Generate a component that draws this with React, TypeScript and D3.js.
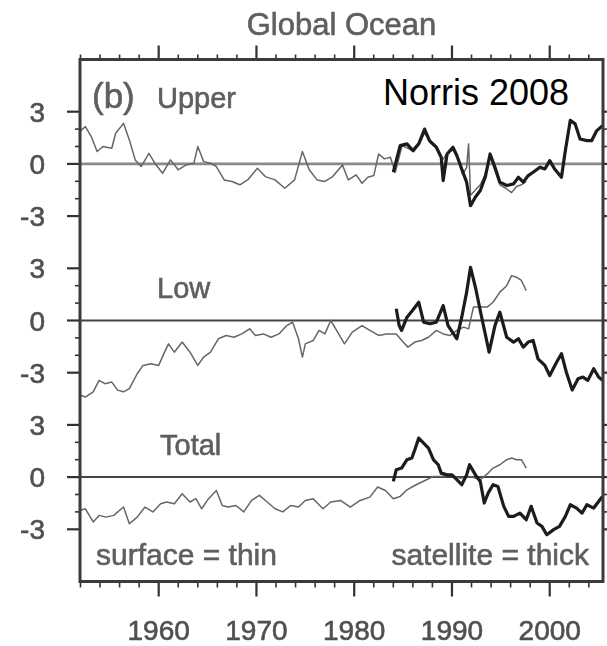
import React from 'react';
import * as d3 from 'd3';

// ---------- data (year, anomaly) ----------
const upperSurface: [number, number][] = [
  [1952.0, 1.9], [1952.5, 2.14], [1953.1, 1.57], [1953.7, 0.71], [1954.3, 1.0], [1955.2, 0.9], [1955.6, 1.76],
  [1956.4, 2.33], [1957.0, 1.38], [1957.6, 0.23], [1958.2, -0.15], [1959.0, 0.61], [1959.6, 0.04], [1960.4, -0.54],
  [1961.2, 0.23], [1962.0, -0.34], [1962.8, -0.06], [1963.6, 0.04], [1964.0, 1.0], [1964.6, 0.13], [1965.3, 0.04],
  [1965.9, -0.15], [1966.7, -0.92], [1967.5, -1.01], [1968.3, -1.2], [1969.1, -0.92], [1970.1, -0.25], [1970.9, -0.73],
  [1971.9, -0.92], [1972.9, -1.4], [1973.9, -0.92], [1974.7, 0.71], [1975.4, -0.34], [1976.2, -0.92], [1977.0, -1.01],
  [1977.8, -0.73], [1978.8, -0.06], [1979.4, -0.92], [1980.2, -0.63], [1980.8, -1.11], [1981.4, -0.77], [1982.0, -0.67],
  [1982.5, 0.57], [1983.1, 0.29], [1983.7, 0.38], [1984.2, -0.48], [1984.9, 1.05], [1985.5, 0.9], [1986.1, 0.7],
  [1986.7, 1.2], [1987.2, 1.8], [1987.8, 1.2], [1988.4, 0.9], [1989.0, 0.2], [1989.5, 0.6], [1990.1, 0.8],
  [1990.6, 0.3], [1991.1, -0.6], [1991.5, -0.2], [1991.7, 1.15], [1991.9, -1.8], [1992.4, -1.5], [1992.9, -1.2],
  [1993.4, -0.6], [1993.9, 0.4], [1994.4, -0.4], [1994.9, -1.2], [1995.5, -1.4], [1996.1, -1.65], [1996.6, -1.3],
  [1997.1, -1.2], [1997.6, -1.0],
];

const upperSatellite: [number, number][] = [
  [1984.0, -0.48], [1984.7, 1.05], [1985.4, 1.15], [1986.0, 0.77], [1986.6, 1.15], [1987.2, 2.0], [1987.7, 1.34],
  [1988.4, 0.96], [1988.9, 0.38], [1989.1, -0.96], [1989.5, 0.57], [1990.1, 0.96], [1990.5, 0.48], [1991.0, -0.29],
  [1991.5, -1.05], [1991.9, -2.4], [1992.4, -1.9], [1992.9, -1.53], [1993.4, -0.77], [1993.9, 0.57], [1994.4, -0.19],
  [1994.9, -1.05], [1995.6, -1.24], [1996.3, -1.15], [1996.8, -0.77], [1997.3, -1.05], [1997.8, -0.67], [1998.3, -0.48],
  [1999.0, -0.19], [1999.5, -0.29], [2000.0, 0.19], [2000.5, -0.29], [2001.2, -0.77], [2001.6, 0.77], [2002.1, 2.5],
  [2002.6, 2.3], [2003.1, 1.43], [2003.8, 1.34], [2004.3, 1.34], [2004.8, 1.9], [2005.4, 2.2],
];

const lowSurface: [number, number][] = [
  [1952.0, -4.3], [1952.5, -4.4], [1953.3, -4.1], [1953.9, -3.44], [1954.5, -3.63], [1955.2, -3.54], [1955.8, -4.0],
  [1956.4, -4.1], [1957.0, -3.92], [1957.8, -3.06], [1958.4, -2.58], [1959.2, -2.49], [1960.0, -2.58], [1960.6, -1.82],
  [1961.0, -1.34], [1961.6, -1.82], [1962.4, -1.24], [1963.2, -1.82], [1964.0, -2.58], [1964.6, -2.1], [1965.3, -1.82],
  [1966.1, -1.05], [1966.9, -0.86], [1967.7, -0.96], [1968.5, -0.77], [1969.3, -0.48], [1969.9, -0.86], [1970.7, -0.77],
  [1971.5, -0.96], [1972.3, -0.77], [1973.1, -0.29], [1973.7, -0.1], [1974.3, -1.05], [1974.7, -2.1], [1975.0, -1.34],
  [1975.8, -1.15], [1976.4, -0.57], [1977.0, -0.77], [1977.6, 0.0], [1978.2, -0.57], [1979.0, -1.34], [1979.8, -0.67],
  [1980.8, -0.29], [1981.6, -0.57], [1982.5, -0.86], [1983.3, -0.77], [1984.3, -0.77], [1985.0, -1.24], [1985.5, -1.53],
  [1986.2, -1.24], [1986.9, -1.15], [1987.6, -0.96], [1988.4, -0.57], [1989.1, -0.77], [1989.8, -0.86], [1990.5, -0.57],
  [1991.2, -0.38], [1991.7, -0.48], [1992.2, 0.77], [1992.7, 0.77], [1993.6, 0.77], [1994.2, 1.05], [1994.9, 1.63],
  [1995.6, 2.0], [1996.1, 2.58], [1996.6, 2.49], [1997.1, 2.3], [1997.6, 1.72],
];

const lowSatellite: [number, number][] = [
  [1984.3, 0.67], [1984.6, -0.29], [1984.85, -0.57], [1985.4, 0.19], [1986.0, 0.6], [1986.6, 1.05], [1987.1, -0.1],
  [1987.75, -0.19], [1988.4, -0.1], [1989.1, 0.86], [1989.6, -0.29], [1990.5, -1.05], [1991.0, 0.19], [1991.5, 1.63],
  [1991.9, 3.06], [1992.4, 1.91], [1993.0, 0.29], [1993.8, -1.82], [1994.4, -0.29], [1994.9, 0.48], [1995.6, -0.96],
  [1996.3, -1.24], [1996.8, -1.05], [1997.3, -1.53], [1997.8, -1.24], [1998.3, -1.15], [1998.8, -2.2], [1999.5, -2.58],
  [2000.0, -3.16], [2000.7, -2.4], [2001.2, -1.91], [2001.7, -2.97], [2002.3, -4.0], [2002.9, -3.35], [2003.4, -3.25],
  [2003.9, -3.44], [2004.5, -2.77], [2005.0, -3.25], [2005.4, -3.44],
];

const totalSurface: [number, number][] = [
  [1952.0, -1.9], [1952.5, -1.82], [1953.3, -2.58], [1953.9, -2.2], [1954.6, -2.3], [1955.4, -2.2], [1956.4, -1.72],
  [1957.0, -2.68], [1957.8, -2.3], [1958.6, -1.72], [1959.4, -2.0], [1960.2, -1.53], [1960.8, -1.43], [1961.6, -1.53],
  [1962.4, -0.96], [1963.2, -1.43], [1963.8, -1.24], [1964.4, -1.82], [1965.1, -1.24], [1965.9, -0.77], [1966.5, -1.63],
  [1967.1, -1.72], [1967.9, -1.63], [1968.7, -2.0], [1969.5, -1.34], [1970.3, -1.05], [1971.1, -1.43], [1971.9, -1.82],
  [1972.7, -2.0], [1973.5, -1.63], [1974.3, -1.72], [1975.0, -1.34], [1975.8, -1.24], [1976.8, -1.82], [1977.6, -1.43],
  [1978.6, -1.34], [1979.6, -1.72], [1980.6, -1.34], [1981.6, -1.15], [1982.4, -0.57], [1983.2, -0.77], [1984.0, -1.24],
  [1984.7, -1.11], [1985.4, -0.73], [1986.0, -0.54], [1986.7, -0.34], [1987.4, -0.15], [1988.1, 0.04], [1988.9, 0.04],
  [1989.8, 0.13], [1990.8, -0.06], [1991.8, 0.04], [1992.9, -0.15], [1993.7, 0.23], [1994.2, 0.52], [1994.9, 0.71],
  [1995.6, 1.0], [1996.1, 1.1], [1996.6, 1.0], [1997.1, 1.0], [1997.6, 0.52],
];

const totalSatellite: [number, number][] = [
  [1984.0, -0.25], [1984.3, 0.42], [1984.85, 0.52], [1985.4, 1.0], [1985.9, 1.1], [1986.2, 1.57], [1986.6, 2.24],
  [1987.1, 1.95], [1987.6, 1.66], [1988.1, 1.0], [1988.6, 0.71], [1988.9, 0.23], [1989.5, 0.13], [1990.0, 0.13],
  [1990.5, -0.15], [1991.0, -0.44], [1991.5, 0.13], [1991.8, 0.71], [1992.4, 0.13], [1992.9, -0.25], [1993.3, -1.49],
  [1993.7, -0.92], [1994.2, -0.44], [1994.7, -0.54], [1995.3, -1.68], [1995.8, -2.26], [1996.3, -2.26], [1996.95, -2.07],
  [1997.6, -2.45], [1998.1, -1.68], [1998.7, -2.64], [1999.2, -2.83], [1999.7, -3.31], [2000.4, -3.02], [2001.0, -2.83],
  [2001.6, -2.26], [2002.1, -1.59], [2002.75, -1.78], [2003.3, -2.07], [2003.8, -1.59], [2004.5, -1.78], [2005.0, -1.4],
  [2005.4, -1.11],
];

const panelNames = ['Upper', 'Low', 'Total'];
const panelOffsets = [18, 9, 0];
const yTickValues = [3, 0, -3];
const yTickLabels = ['3', '0', '-3'];
const yMinorValues = [-2, -1, 1, 2];
const decadeTicks = [1960, 1970, 1980, 1990, 2000];
const decadeLabels = ['1960', '1970', '1980', '1990', '2000'];
const minorYearTicks = [1952, 1954, 1956, 1958, 1962, 1964, 1966, 1968, 1972, 1974, 1976, 1978, 1982, 1984, 1986, 1988, 1992, 1994, 1996, 1998, 2002, 2004];
const titleText = 'Global Ocean';
const panelTag = '(b)';
const sourceText = 'Norris 2008';
const legendThin = 'surface = thin';
const legendThick = 'satellite = thick';

// ---------- layout ----------
const W = 607, H = 646;
const L = 80, R = 603, T = 59.5, B = 581.5;
const FONT = '"Liberation Sans", Arial, Helvetica, sans-serif';
const TXT = '#505050';
const LBL = '#5e5e5e';

export default function App() {
  const x = d3.scaleLinear().domain([1951.95, 2005.45]).range([L, R]);
  const y = d3.scaleLinear().domain([-6, 24]).range([B, T]);
  const line = d3.line<[number, number]>().x(d => x(d[0]));

  const series = [
    { surf: upperSurface, sat: upperSatellite },
    { surf: lowSurface, sat: lowSatellite },
    { surf: totalSurface, sat: totalSatellite },
  ];

  const labelPos = [
    { x: 157, y: 108 },
    { x: 157, y: 298 },
    { x: 160, y: 455 },
  ];

  const grayText = { fontFamily: FONT, stroke: LBL, strokeWidth: 0.6, fill: LBL } as const;

  return (
    <svg width={W} height={H} style={{ position: 'absolute', left: 0, top: 0, background: '#fff' }}>
      <defs>
        <filter id="soft" x="-5%" y="-5%" width="110%" height="110%">
          <feGaussianBlur stdDeviation="0.75" />
        </filter>
        <clipPath id="plotClip">
          <rect x={L} y={T} width={R - L} height={B - T} />
        </clipPath>
      </defs>
      <rect x={0} y={0} width={W} height={H} fill="#fff" />
      <g filter="url(#soft)">
        <text x={(L + R) / 2} y={35} textAnchor="middle" fontSize={31} {...grayText}>{titleText}</text>

        {/* zero lines */}
        {panelOffsets.map((off, i) => (
          <line key={'z' + i} x1={L} x2={R} y1={y(off)} y2={y(off)}
            stroke={i === 0 ? '#8a8a8a' : '#444'} strokeWidth={i === 0 ? 2.6 : 2} />
        ))}

        {/* series */}
        <g clipPath="url(#plotClip)">
          {series.map((s, i) => {
            const off = panelOffsets[i];
            const ln = line.y(d => y(d[1] + off));
            return (
              <g key={'s' + i}>
                <path d={ln(s.surf) || ''} fill="none" stroke="#666" strokeWidth={1.5} strokeLinejoin="round" />
                <path d={ln(s.sat) || ''} fill="none" stroke="#1a1a1a" strokeWidth={3.2} strokeLinejoin="round" />
              </g>
            );
          })}
        </g>

        {/* y ticks, left & right */}
        {panelOffsets.map((off, i) => (
          <g key={'yt' + i}>
            {yTickValues.map((v, j) => (
              <g key={j}>
                <line x1={L - 13} x2={L} y1={y(off + v)} y2={y(off + v)} stroke="#333" strokeWidth={2.2} />
                <line x1={R} x2={R + 13} y1={y(off + v)} y2={y(off + v)} stroke="#333" strokeWidth={2.2} />
                <text x={45} y={y(off + v)} dy="0.36em" textAnchor="end" fontFamily={FONT} fontSize={28}
                  fill={TXT} stroke={TXT} strokeWidth={0.6}>{yTickLabels[j]}</text>
              </g>
            ))}
            {yMinorValues.map((v, j) => (
              <g key={'m' + j}>
                <line x1={L - 5} x2={L} y1={y(off + v)} y2={y(off + v)} stroke="#333" strokeWidth={1.6} />
                <line x1={R} x2={R + 5} y1={y(off + v)} y2={y(off + v)} stroke="#333" strokeWidth={1.6} />
              </g>
            ))}
          </g>
        ))}

        {/* x ticks, top & bottom */}
        {decadeTicks.map((t, i) => (
          <g key={'xt' + i}>
            <line x1={x(t)} x2={x(t)} y1={B} y2={B + 15} stroke="#333" strokeWidth={2.2} />
            <line x1={x(t)} x2={x(t)} y1={T} y2={T - 14} stroke="#333" strokeWidth={2.2} />
            <text x={x(t)} y={640} textAnchor="middle" fontFamily={FONT} fontSize={28}
              fill={TXT} stroke={TXT} strokeWidth={0.6}>{decadeLabels[i]}</text>
          </g>
        ))}
        {minorYearTicks.map((t, i) => (
          <g key={'xm' + i}>
            <line x1={x(t)} x2={x(t)} y1={B} y2={B + 6} stroke="#333" strokeWidth={1.6} />
            <line x1={x(t)} x2={x(t)} y1={T} y2={T - 5} stroke="#333" strokeWidth={1.6} />
          </g>
        ))}

        {/* frame */}
        <rect x={L} y={T} width={R - L} height={B - T} fill="none" stroke="#3a3a3a" strokeWidth={3} />

        {/* panel labels */}
        <text x={92} y={108} fontSize={35} {...grayText}>{panelTag}</text>
        {panelNames.map((n, i) => (
          <text key={'pn' + i} x={labelPos[i].x} y={labelPos[i].y} fontSize={29} {...grayText}>{n}</text>
        ))}
        <text x={96} y={565} fontSize={30} {...grayText}>{legendThin}</text>
        <text x={589} y={565} textAnchor="end" fontSize={30} {...grayText}>{legendThick}</text>
      </g>

      <text x={383} y={105} fontFamily={FONT} fontSize={36} fill="#000">{sourceText}</text>
    </svg>
  );
}
